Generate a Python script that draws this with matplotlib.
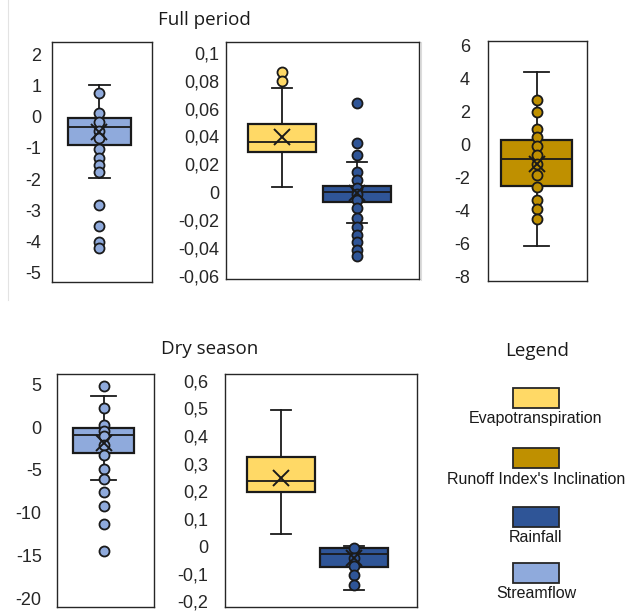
import numpy as np
import matplotlib.pyplot as plt
from matplotlib.lines import Line2D
from matplotlib.patches import Rectangle
from matplotlib.ticker import FixedLocator, FuncFormatter

plt.rcParams['font.family'] = ['Liberation Sans', 'DejaVu Sans']

W, H = 627, 612

# variables and their fill colours
variables = ['Evapotranspiration', "Runoff Index's Inclination", 'Rainfall', 'Streamflow']
var_colors = ['#FFD966', '#BF9000', '#2F5597', '#8FAADC']

# box statistics: [lower whisker, Q1, median, Q3, upper whisker]
full_streamflow_box = [-1.97, -0.9, -0.33, -0.05, 1.0]
full_streamflow_mean = -0.5
full_streamflow_pts = [0.74, 0.12, -0.18, -0.46, -0.70, -1.05, -1.33, -1.54, -1.76,
                       -2.82, -3.52, -4.02, -4.21]

full_et_box = [0.0036, 0.0291, 0.0358, 0.0487, 0.075]
full_et_mean = 0.0399
full_et_pts = [0.0864, 0.080]

full_rain_box = [-0.0217, -0.0072, 0.0, 0.0048, 0.0215]
full_rain_mean = -0.0007
full_rain_pts = [0.0637, 0.0355, 0.0266, 0.0148, 0.0088, 0.003, -0.001, -0.0055,
                 -0.0115, -0.0186, -0.0251, -0.0306, -0.0358, -0.0413, -0.0457]

full_runoff_box = [-6.19, -2.52, -0.85, 0.26, 4.42]
full_runoff_mean = -1.16
full_runoff_pts = [2.7, 2.0, 0.97, 0.47, -0.08, -0.65, -1.16, -1.87, -2.58, -3.35,
                   -3.89, -4.5]

dry_streamflow_box = [-6.2, -3.0, -0.95, -0.1, 3.6]
dry_streamflow_mean = -1.9
dry_streamflow_pts = [4.8, 2.2, 0.2, -0.5, -1.05, -2.07, -3.24, -4.9, -6.0, -7.55,
                      -9.26, -11.3, -14.5]

dry_et_box = [0.044, 0.195, 0.238, 0.322, 0.493]
dry_et_mean = 0.249
dry_et_pts = []

dry_rain_box = [-0.158, -0.075, -0.0275, -0.005, 0.002]
dry_rain_mean = -0.042
dry_rain_pts = [-0.008, -0.044, -0.071, -0.104, -0.14]

full_streamflow_ticks = np.arange(-5, 3, 1)
full_mid_ticks = np.arange(-0.06, 0.1001, 0.02)
full_runoff_ticks = np.arange(-8, 7, 2)
dry_streamflow_ticks = np.arange(-20, 6, 5)
dry_mid_ticks = np.arange(-0.2, 0.6001, 0.1)


def px_rect(x0, y0, x1, y1):
    # pixel box (top-left origin) -> figure fraction rect
    return [x0 / W, 1 - y1 / H, (x1 - x0) / W, (y1 - y0) / H]


def comma_fmt(v, pos):
    v = round(v, 4)
    if abs(v) < 1e-9:
        return '0'
    return f'{v:g}'.replace('.', ',')


def draw_panel(fig, rect, series, ylim, xlim, ticks, width, capw, pad):
    ax = fig.add_axes(rect)
    for i, (box, mean, pts, color) in enumerate(series):
        pos = i + 1
        stats = [dict(whislo=box[0], q1=box[1], med=box[2], q3=box[3], whishi=box[4],
                      fliers=[])]
        ax.bxp(stats, positions=[pos], widths=width, capwidths=capw, patch_artist=True,
               showfliers=False, manage_ticks=False,
               boxprops=dict(facecolor=color, edgecolor='#1a1a1a', linewidth=1.6),
               medianprops=dict(color='#1a1a1a', linewidth=1.3),
               whiskerprops=dict(color='#1a1a1a', linewidth=1.3),
               capprops=dict(color='#1a1a1a', linewidth=1.3))
        if len(pts):
            ax.scatter(np.full(len(pts), pos), pts, s=52, c=color, edgecolors='#1a1a1a',
                       linewidths=1.3, zorder=4)
        ax.plot([pos], [mean], marker='x', color='#1a1a1a', markersize=11,
                markeredgewidth=1.4, zorder=5)
    ax.set_xlim(*xlim)
    ax.set_ylim(*ylim)
    ax.set_xticks([])
    ax.yaxis.set_major_locator(FixedLocator(ticks))
    ax.yaxis.set_major_formatter(FuncFormatter(comma_fmt))
    ax.tick_params(axis='y', length=0, pad=pad, labelsize=13, labelcolor='#262626')
    for sp in ax.spines.values():
        sp.set_color('#262626')
        sp.set_linewidth(1.0)
    return ax


fig = plt.figure(figsize=(W / 100, H / 100), dpi=100)

# Full period
draw_panel(fig, px_rect(52, 42, 152, 282),
           [(full_streamflow_box, full_streamflow_mean, full_streamflow_pts, var_colors[3])],
           (-5.30, 2.39), (0.53, 1.53), full_streamflow_ticks, 0.63, 0.21, 7.5)
draw_panel(fig, px_rect(226, 42, 419, 279),
           [(full_et_box, full_et_mean, full_et_pts, var_colors[0]),
            (full_rain_box, full_rain_mean, full_rain_pts, var_colors[2])],
           (-0.0622, 0.1077), (0.253, 2.827), full_mid_ticks, 0.9, 0.27, 5)
draw_panel(fig, px_rect(488, 41, 587, 281),
           [(full_runoff_box, full_runoff_mean, full_runoff_pts, var_colors[1])],
           (-8.30, 6.30), (0.51, 1.51), full_runoff_ticks, 0.72, 0.26, 13)

# Dry season
draw_panel(fig, px_rect(57, 374, 154, 607),
           [(dry_streamflow_box, dry_streamflow_mean, dry_streamflow_pts, var_colors[3])],
           (-21.0, 6.2), (0.52, 1.52), dry_streamflow_ticks, 0.63, 0.26, 11)
draw_panel(fig, px_rect(225, 374, 417, 607),
           [(dry_et_box, dry_et_mean, dry_et_pts, var_colors[0]),
            (dry_rain_box, dry_rain_mean, dry_rain_pts, var_colors[2])],
           (-0.221, 0.625), (0.233, 2.863), dry_mid_ticks, 0.92, 0.27, 12)

title_font = dict(family=['Open Sans', 'DejaVu Sans'], size=13.5, color='#1a1a1a',
                  ha='center', va='center')
fig.text(204 / W, 1 - 20 / H, 'Full period', **title_font)
fig.text(210 / W, 1 - 349 / H, 'Dry season', **title_font)
fig.text(537 / W, 1 - 351 / H, 'Legend', **title_font)

# legend swatches with labels underneath
swatch_y = [398, 458, 517, 573]
for name, color, yc in zip(variables, var_colors, swatch_y):
    fig.add_artist(Rectangle((513 / W, 1 - (yc + 10) / H), 46 / W, 20 / H,
                             facecolor=color, edgecolor='#262626', linewidth=1.3,
                             transform=fig.transFigure))
    fig.text(536 / W, 1 - (yc + 21) / H, name, ha='center', va='center',
             size=11.5, color='#1a1a1a')

# faint separators
fig.add_artist(Line2D([8 / W, 8 / W], [1 - 0 / H, 1 - 300 / H], color='#e3e3e3',
                      linewidth=0.8, transform=fig.transFigure))
fig.add_artist(Line2D([421 / W, 421 / W], [1 - 42 / H, 1 - 280 / H], color='#dcdcdc',
                      linewidth=0.8, transform=fig.transFigure))

fig.savefig('out.png', dpi=100)
